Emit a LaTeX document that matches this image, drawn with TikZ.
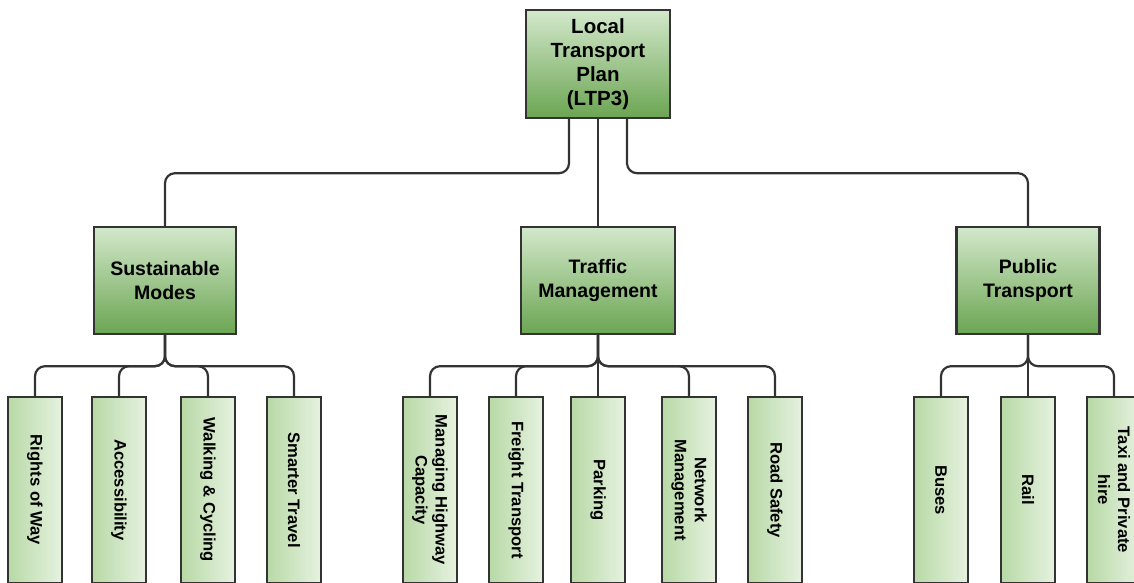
\documentclass[tikz,border=0pt]{standalone}
\usepackage{fontspec}
\setmainfont{Liberation Sans}
\definecolor{bordc}{HTML}{333333}
\definecolor{gtop}{HTML}{D3E8CB}
\definecolor{gbot}{HTML}{6BA552}
\definecolor{lleft}{HTML}{B8D9A6}
\definecolor{lright}{HTML}{E6F2E0}
\tikzset{
  box/.style={draw=bordc, line width=2.4pt, rectangle, inner sep=0pt, align=center, font=\bfseries},
  hdr/.style={box, top color=gtop, bottom color=gbot, minimum height=107pt},
  leaf/.style={box, left color=lleft, right color=lright, minimum width=54pt, minimum height=186pt},
  leaftext/.style={rotate=-90, align=center, inner sep=0pt, font=\bfseries\fontsize{16.6}{20}\selectfont},
  conn/.style={draw=bordc, line width=2.2pt, rounded corners=10pt},
}
\begin{document}
\begin{tikzpicture}[x=1pt,y=-1pt]
\useasboundingbox (0,0) rectangle (1134,583);
\clip (0,0) rectangle (1134,583);
\fill[white] (0,0) rectangle (1134,583);
% top
\node[hdr, minimum width=144pt, minimum height=108pt, font=\bfseries\fontsize{20.5}{24}\selectfont] (top) at (598,64) {Local\\Transport\\Plan\\(LTP3)};
% headers
\node[hdr, minimum width=142pt, font=\bfseries\fontsize{19.5}{23.5}\selectfont] (sm) at (165,280.5) {Sustainable\\Modes};
\node[hdr, minimum width=154pt, font=\bfseries\fontsize{19.5}{23.5}\selectfont] (tm) at (598,280.5) {Traffic\\Management};
\node[hdr, minimum width=143pt, font=\bfseries\fontsize{19.5}{23.5}\selectfont] (pt) at (1028,280.5) {Public\\Transport};
% leaves
\node[leaf] (l1) at (35,490) {};
\node[leaf] (l2) at (119,490) {};
\node[leaf] (l3) at (208,490) {};
\node[leaf] (l4) at (294,490) {};
\node[leaf] (l5) at (430,490) {};
\node[leaf] (l6) at (516,490) {};
\node[leaf] (l7) at (598,490) {};
\node[leaf] (l8) at (689,490) {};
\node[leaf] (l9) at (775,490) {};
\node[leaf] (l10) at (941,490) {};
\node[leaf] (l11) at (1028,490) {};
\node[leaf] (l12) at (1114,490) {};
\node[leaftext] (t1) at (l1) {Rights of Way};
\node[leaftext] (t2) at (l2) {Accessibility};
\node[leaftext] (t3) at (l3) {Walking \& Cycling};
\node[leaftext] (t4) at (l4) {Smarter Travel};
\node[leaftext] (t5) at (l5) {Managing Highway\\Capacity};
\node[leaftext] (t6) at (l6) {Freight Transport};
\node[leaftext] (t7) at (l7) {Parking};
\node[leaftext] (t8) at (l8) {Network\\Management};
\node[leaftext] (t9) at (l9) {Road Safety};
\node[leaftext] (t10) at (l10) {Buses};
\node[leaftext] (t11) at (l11) {Rail};
\node[leaftext] (t12) at (l12) {Taxi and Private\\hire};
% top connectors
\draw[conn] ([xshift=-29pt]top.south) -- ++(0,54) -| (sm.north);
\draw[conn] (top.south) -- (tm.north);
\draw[conn] ([xshift=29pt]top.south) -- ++(0,54) -| (pt.north);
% leaf connectors
\foreach \c in {l1,l2,l3,l4} \draw[conn] (sm.south) -- ++(0,31) -| (\c.north);
\foreach \c in {l5,l6,l8,l9} \draw[conn] (tm.south) -- ++(0,31) -| (\c.north);
\draw[conn] (tm.south) -- (l7.north);
\foreach \c in {l10,l12} \draw[conn] (pt.south) -- ++(0,31) -| (\c.north);
\draw[conn] (pt.south) -- (l11.north);
\end{tikzpicture}
\end{document}
